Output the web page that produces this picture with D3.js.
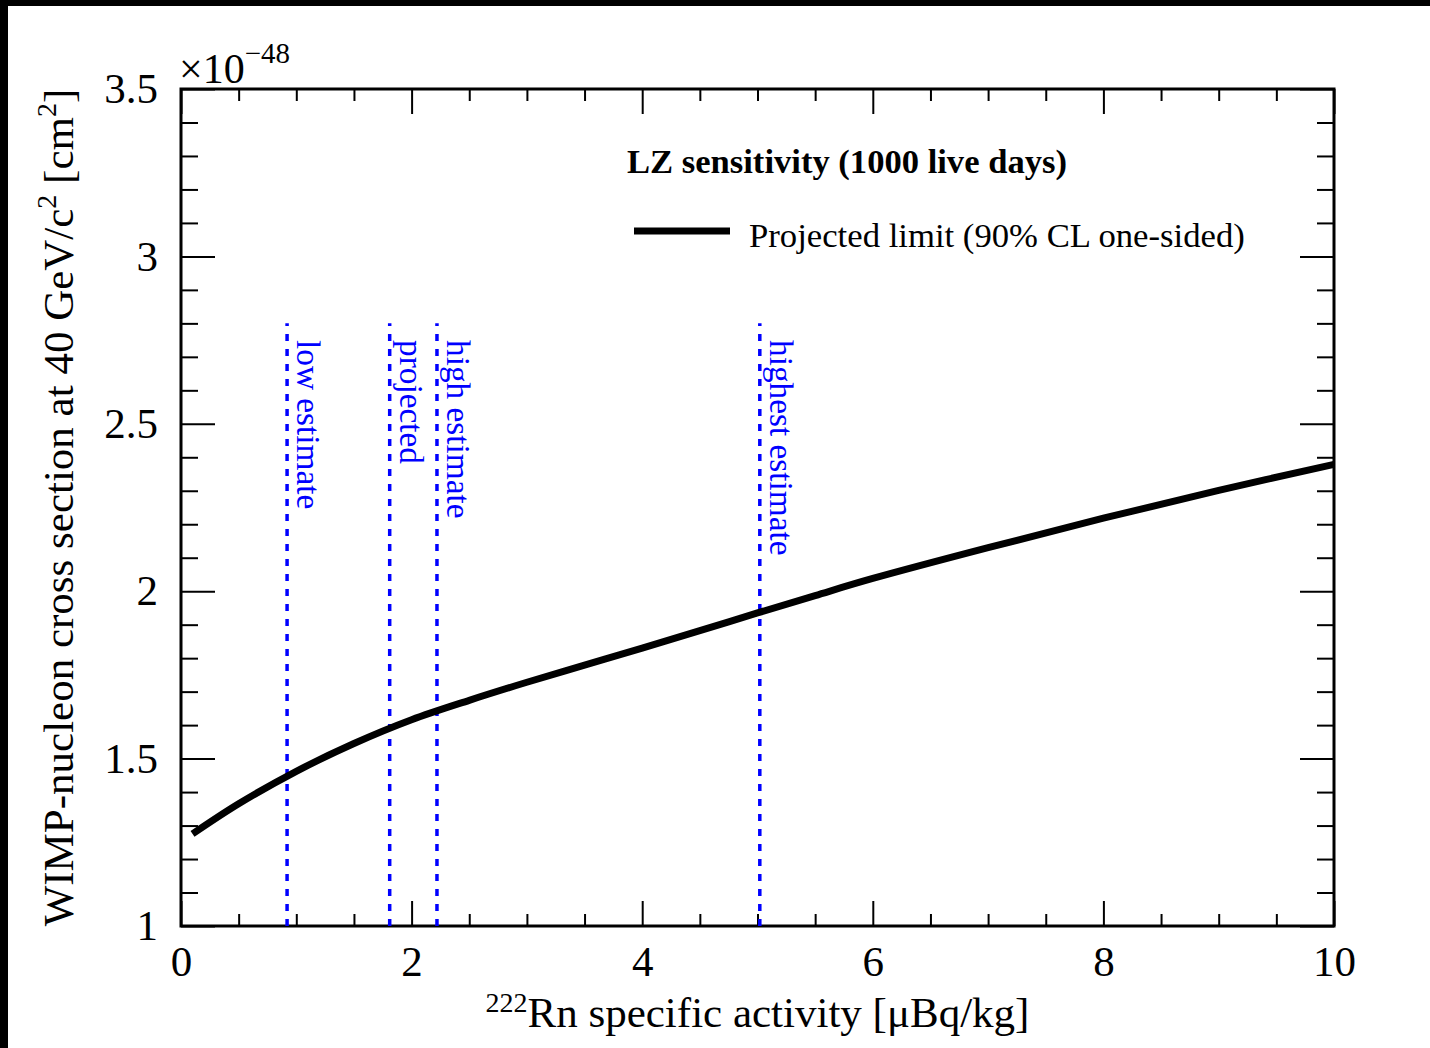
<!DOCTYPE html>
<html>
<head>
<meta charset="utf-8">
<script src="https://cdn.jsdelivr.net/npm/d3@7"></script>
<style>
  html, body { margin: 0; padding: 0; background: #000; }
  svg { display: block; }
  text { font-family: "Liberation Serif", "Times New Roman", serif; }
</style>
</head>
<body>
<script>
// ---- data ----
const rnActivity = [0.1, 0.5, 1, 1.5, 2, 2.5, 3, 3.5, 4, 4.5, 5, 5.5, 6, 7, 8, 9, 10];
const crossSection = [1.275, 1.365, 1.462, 1.545, 1.616, 1.674, 1.728, 1.779, 1.830, 1.882, 1.935, 1.987, 2.038, 2.130, 2.218, 2.301, 2.379];

const markerX = [0.92, 1.81, 2.22, 5.02];
const markerLabels = ["low estimate", "projected", "high estimate", "highest estimate"];
const markerTop = 2.8;

const xTicks = [0, 2, 4, 6, 8, 10];
const yTicks = [1, 1.5, 2, 2.5, 3, 3.5];

// ---- layout ----
const W = 1430, H = 1048;
const L = 181, R = 1334, T = 89, B = 926;

const svg = d3.select("body").append("svg").attr("width", W).attr("height", H);
svg.append("rect").attr("x", 8).attr("y", 6).attr("width", W - 8).attr("height", H - 6).attr("fill", "#fff");

const x = d3.scaleLinear().domain([0, 10]).range([L, R]);
const y = d3.scaleLinear().domain([1, 3.5]).range([B, T]);

const minorX = d3.range(0, 10.001, 0.5).filter(v => Math.abs(v / 2 - Math.round(v / 2)) > 1e-6);
const minorY = d3.range(1, 3.5001, 0.1).filter(v => Math.abs(v * 2 - Math.round(v * 2)) > 1e-6);

function styleAxis(g) {
  g.select(".domain").remove();
  g.selectAll(".tick line").attr("stroke", "#000").attr("stroke-width", 2);
}

// bottom major with labels
svg.append("g").attr("transform", `translate(0,${B})`)
  .call(d3.axisBottom(x).tickValues(xTicks).tickFormat(d3.format("d")).tickSizeInner(-25).tickSizeOuter(0).tickPadding(19))
  .call(styleAxis)
  .selectAll("text").attr("font-size", 43).attr("fill", "#000");
// bottom minor
svg.append("g").attr("transform", `translate(0,${B})`)
  .call(d3.axisBottom(x).tickValues(minorX).tickFormat("").tickSizeInner(-12).tickSizeOuter(0))
  .call(styleAxis);
// top major/minor
svg.append("g").attr("transform", `translate(0,${T})`)
  .call(d3.axisTop(x).tickValues(xTicks).tickFormat("").tickSizeInner(-25).tickSizeOuter(0))
  .call(styleAxis);
svg.append("g").attr("transform", `translate(0,${T})`)
  .call(d3.axisTop(x).tickValues(minorX).tickFormat("").tickSizeInner(-12).tickSizeOuter(0))
  .call(styleAxis);

// left major with labels
svg.append("g").attr("transform", `translate(${L},0)`)
  .call(d3.axisLeft(y).tickValues(yTicks).tickFormat(d => d3.format("~g")(d)).tickSizeInner(-34).tickSizeOuter(0).tickPadding(23))
  .call(styleAxis)
  .selectAll("text").attr("font-size", 43).attr("fill", "#000");
svg.append("g").attr("transform", `translate(${L},0)`)
  .call(d3.axisLeft(y).tickValues(minorY).tickFormat("").tickSizeInner(-17).tickSizeOuter(0))
  .call(styleAxis);
// right
svg.append("g").attr("transform", `translate(${R},0)`)
  .call(d3.axisRight(y).tickValues(yTicks).tickFormat("").tickSizeInner(-34).tickSizeOuter(0))
  .call(styleAxis);
svg.append("g").attr("transform", `translate(${R},0)`)
  .call(d3.axisRight(y).tickValues(minorY).tickFormat("").tickSizeInner(-17).tickSizeOuter(0))
  .call(styleAxis);

// frame
svg.append("rect").attr("x", L).attr("y", T).attr("width", R - L).attr("height", B - T)
  .attr("fill", "none").attr("stroke", "#000").attr("stroke-width", 3);

// exponent
const expo = svg.append("text").attr("x", 179).attr("y", 83).attr("font-size", 42).attr("fill", "#000");
expo.append("tspan").text("\u00d710");
expo.append("tspan").attr("font-size", 29).attr("dy", -20).text("\u221248");

// marker lines
markerX.forEach((v, i) => {
  svg.append("line")
    .attr("x1", x(v)).attr("x2", x(v)).attr("y1", y(1)).attr("y2", y(markerTop))
    .attr("stroke", "#0000ff").attr("stroke-width", 3.5).attr("stroke-dasharray", "7,8");
  svg.append("text")
    .attr("transform", `translate(${x(v) + 10},${340}) rotate(90)`)
    .attr("font-size", 33.3).attr("fill", "#0000ff")
    .text(markerLabels[i]);
});

// curve
const line = d3.line().x((d, i) => x(rnActivity[i])).y(d => y(d)).curve(d3.curveCatmullRom.alpha(0.5));
svg.append("path").datum(crossSection).attr("d", line)
  .attr("fill", "none").attr("stroke", "#000").attr("stroke-width", 7);

// legend
svg.append("text").attr("x", 627).attr("y", 173).attr("font-size", 34.6).attr("font-weight", "bold")
  .attr("fill", "#000").text("LZ sensitivity (1000 live days)");
svg.append("line").attr("x1", 634).attr("x2", 730).attr("y1", 231).attr("y2", 231)
  .attr("stroke", "#000").attr("stroke-width", 7);
svg.append("text").attr("x", 749).attr("y", 247).attr("font-size", 34.7).attr("fill", "#000")
  .text("Projected limit (90% CL one-sided)");

// x title
const xt = svg.append("text").attr("x", (L + R) / 2).attr("y", 1027).attr("text-anchor", "middle")
  .attr("font-size", 43).attr("fill", "#000");
xt.append("tspan").attr("font-size", 28).attr("dy", -15).text("222");
xt.append("tspan").attr("dy", 15).text("Rn specific activity [\u03bcBq/kg]");

// y title
const yt = svg.append("text").attr("transform", `translate(73,${(T + B) / 2}) rotate(-90)`)
  .attr("text-anchor", "middle").attr("font-size", 43).attr("fill", "#000");
yt.append("tspan").text("WIMP-nucleon cross section at 40 GeV/c");
yt.append("tspan").attr("font-size", 28).attr("dy", -17).text("2");
yt.append("tspan").attr("dy", 17).text(" [cm");
yt.append("tspan").attr("font-size", 28).attr("dy", -17).text("2");
yt.append("tspan").attr("dy", 17).text("]");
</script>
</body>
</html>
